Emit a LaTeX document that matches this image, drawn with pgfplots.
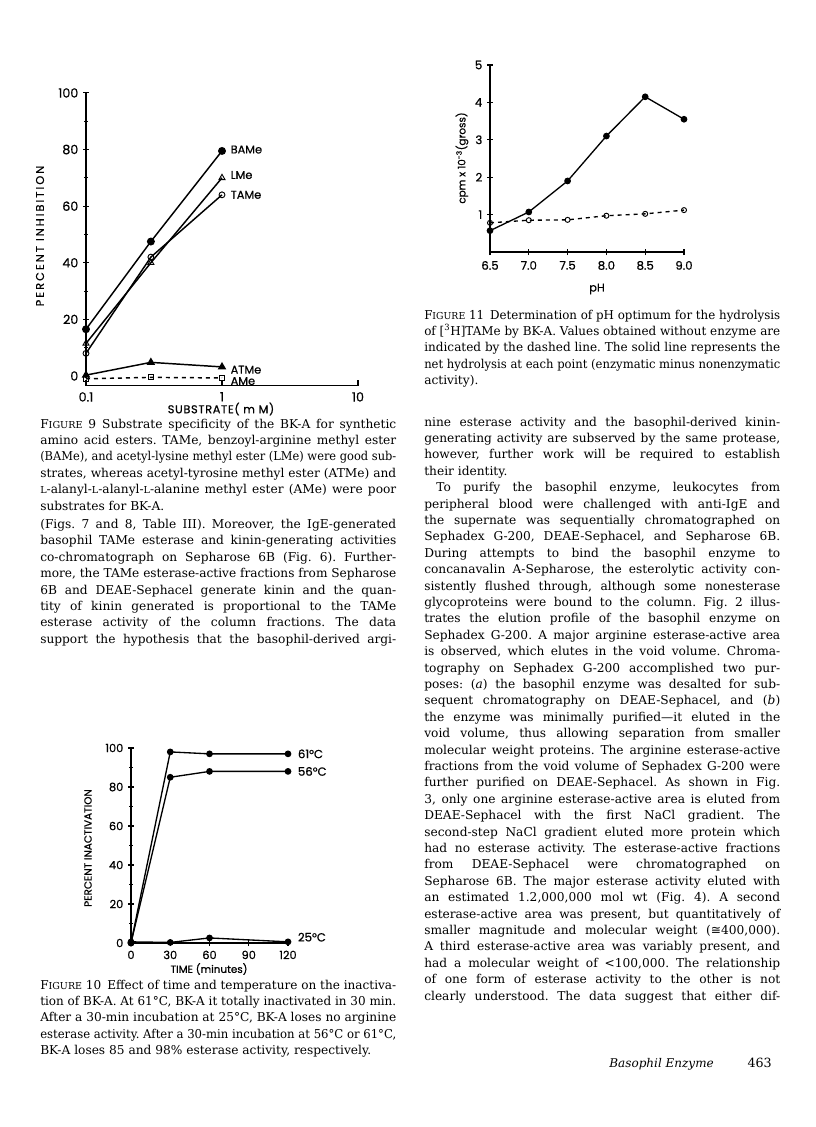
\documentclass[border=0pt]{standalone}
\usepackage{fontspec}
\usepackage{graphicx}
\setmainfont{DejaVu Serif}
\newfontfamily\figfont[FakeBold=0.6]{Poppins}
\newfontfamily\symfont{DejaVu Sans}
\usepackage{pgfplots}
\pgfplotsset{compat=1.18}

\newlength\colw \setlength\colw{267pt}
\newcommand\jl[1]{\noindent\sbox0{#1}\ifdim\wd0>\colw\resizebox{\colw}{\height}{#1}\else\makebox[\colw][s]{#1}\fi\par}
\newcommand\el[1]{\noindent\makebox[\colw][l]{#1}\par}
\newcommand\txt{\fontsize{9.15}{12.3}\selectfont\frenchspacing\parindent=0pt\parskip=0pt}
\newcommand\figsc{F{\fontsize{7.2}{8}\selectfont IGURE}}
\newcommand\Lsc{{\fontsize{7.2}{8}\selectfont L}}
\newcommand\ff[1]{\figfont\fontsize{#1}{#1}\selectfont}

\pgfplotsset{fig/.style={scale only axis,clip=false,
  tick style={black,line width=0.8pt},
  major tick length=4.5pt,minor tick length=3pt,tick align=outside,
  /pgf/number format/assume math mode=true}}

\begin{document}
\begin{tikzpicture}
\path[fill=white] (0pt,0pt) rectangle (612pt,-845.25pt);

% ---- Figure 9
\begin{axis}[fig,at={(64.5pt,-289.4pt)},anchor=south west,width=204pt,height=219.7pt,
  xmode=log,xmin=0.1,xmax=10,ymin=-3.5,ymax=100,
  axis x line=bottom,axis y line=left,
  x axis line style={-,line width=0.9pt},y axis line style={draw=none},
  xtick={0.1,1,10},xticklabels={0.1,1,10},xminorticks=false,
  major x tick style={draw=none},
  ytick={0,20,...,100},minor ytick={10,30,...,90},
  every tick label/.append style={font=\ff{9.5}},
  xticklabel style={yshift=1pt}]
\addplot[black,line width=1.1pt,mark=*,mark size=2.4pt] coordinates {(0.1,16.5)(0.3,47.5)(1,79.5)};
\addplot[black,line width=1.1pt,mark=triangle,mark size=2.6pt,mark options={solid,fill=white,line width=0.7pt}] coordinates {(0.1,11.5)(0.3,40)(1,70)};
\addplot[black,line width=1.1pt,mark=o,mark size=2.2pt,mark options={solid,fill=white,line width=0.7pt}] coordinates {(0.1,8)(0.3,42)(1,64)};
\addplot[black,line width=1.1pt,mark=triangle*,mark size=2.6pt] coordinates {(0.1,0.3)(0.3,4.8)(1,3.2)};
\addplot[black,line width=1.1pt,dashed,mark=square,mark size=1.9pt,mark options={solid,fill=white,line width=0.7pt}] coordinates {(0.1,-1)(0.3,-0.5)(1,-0.7)};
\draw[line width=0.9pt] (axis cs:0.1,0) -- (axis cs:0.1,100);
\draw[line width=0.9pt,densely dotted] (axis cs:0.1,-3.5) -- (axis cs:0.1,0);
\draw[line width=0.8pt] (axis cs:0.1,-3.5) -- ++(0pt,4.5pt)
  (axis cs:1,-3.5) -- ++(0pt,4.5pt) (axis cs:10,-3.5) -- ++(0pt,4.5pt);
\begin{scope}[font=\ff{8.5}]
\node[anchor=west] at (axis cs:1.07,80) {BAMe};
\node[anchor=west] at (axis cs:1.07,71) {LMe};
\node[anchor=west] at (axis cs:1.07,64) {TAMe};
\node[anchor=west] at (axis cs:1.07,2.2) {ATMe};
\node[anchor=west] at (axis cs:1.07,-1.8) {AMe};
\end{scope}
\end{axis}

% ---- Figure 10
\begin{axis}[fig,at={(98.25pt,-707.25pt)},anchor=south west,width=117.75pt,height=146.25pt,
  xmin=0,xmax=120,ymin=0,ymax=100,axis lines=left,
  axis line style={-,line width=0.9pt},
  xtick={0,30,...,120},ytick={0,20,...,100},minor ytick={10,30,...,90},
  every tick label/.append style={font=\ff{8.5}}]
\addplot[black,line width=1pt,mark=*,mark size=2pt] coordinates {(0,0)(30,98)(60,97)(120,97)};
\addplot[black,line width=1pt,mark=*,mark size=2pt] coordinates {(0,0)(30,85)(60,88)(120,88)};
\addplot[black,line width=1pt,mark=*,mark size=2pt] coordinates {(0,0.6)(30,0.3)(60,2.6)(120,0.6)};
\begin{scope}[font=\ff{8.8}]
\node[anchor=west] at (axis cs:124,97) {61°C};
\node[anchor=west] at (axis cs:124,88) {56°C};
\node[anchor=west] at (axis cs:124,3) {25°C};
\end{scope}
\end{axis}

% ---- Figure 11
\begin{axis}[fig,at={(367.5pt,-189pt)},anchor=south west,width=145.5pt,height=140.25pt,
  xmin=6.5,xmax=9.0,ymin=0,ymax=5,axis lines=left,
  axis line style={-,line width=0.9pt},
  xtick={6.5,7,...,9},ytick={1,...,5},
  every tick label/.append style={font=\ff{8.8}},
  xticklabel style={yshift=-1pt,/pgf/number format/.cd,fixed,fixed zerofill,precision=1}]
\addplot[black,line width=1pt,mark=*,mark size=2pt] coordinates {(6.5,0.57)(7.0,1.07)(7.5,1.9)(8.0,3.1)(8.5,4.15)(9.0,3.55)};
\addplot[black,line width=1pt,dashed,mark=o,mark size=1.9pt,mark options={solid,fill=white,line width=0.7pt}] coordinates {(6.5,0.78)(7.0,0.85)(7.5,0.86)(8.0,0.97)(8.5,1.02)(9.0,1.12)};
\end{axis}

\begin{scope}[x=0.75pt,y=-0.75pt]
\node[rotate=90,font=\ff{8.5}\addfontfeatures{LetterSpace=18}] at (40,236) {PERCENT INHIBITION};
\node[font=\ff{8.5}\addfontfeatures{LetterSpace=6}] at (221,409) {SUBSTRATE( m M)};
\node[rotate=90,font=\ff{7.8}] at (88,848) {PERCENT INACTIVATION};
\node[font=\ff{7.8}] at (209,969) {TIME (minutes)};
\node[rotate=90,font=\ff{7.8}] at (462,158) {cpm x 10\textsuperscript{-3}(gross)};
\node[font=\ff{8.5}] at (597,289) {pH};

% ---- text, left column
\node[anchor=base west,inner sep=0pt] at (40,428) {\parbox[t]{\colw}{\txt
\jl{\figsc\ 9\enspace Substrate specificity of the BK-A for synthetic}
\jl{amino acid esters. TAMe, benzoyl-arginine methyl ester}
\jl{(BAMe), and acetyl-lysine methyl ester (LMe) were good sub-}
\jl{strates, whereas acetyl-tyrosine methyl ester (ATMe) and}
\jl{\Lsc-alanyl-\Lsc-alanyl-\Lsc-alanine methyl ester (AMe) were poor}
\el{substrates for BK-A.}
\vspace{1.5pt}
\jl{(Figs. 7 and 8, Table III). Moreover, the IgE-generated}
\jl{basophil TAMe esterase and kinin-generating activities}
\jl{co-chromatograph on Sepharose 6B (Fig. 6). Further-}
\jl{more, the TAMe esterase-active fractions from Sepharose}
\jl{6B and DEAE-Sephacel generate kinin and the quan-}
\jl{tity of kinin generated is proportional to the TAMe}
\jl{esterase activity of the column fractions. The data}
\jl{support the hypothesis that the basophil-derived argi-}
}};

\node[anchor=base west,inner sep=0pt] at (40,989) {\parbox[t]{\colw}{\txt
\jl{\figsc\ 10\enspace Effect of time and temperature on the inactiva-}
\jl{tion of BK-A. At 61°C, BK-A it totally inactivated in 30 min.}
\jl{After a 30-min incubation at 25°C, BK-A loses no arginine}
\jl{esterase activity. After a 30-min incubation at 56°C or 61°C,}
\el{BK-A loses 85 and 98\% esterase activity, respectively.}
}};

% ---- text, right column
\node[anchor=base west,inner sep=0pt] at (424,319) {\parbox[t]{\colw}{\txt
\jl{\figsc\ 11\enspace Determination of pH optimum for the hydrolysis}
\jl{of [\textsuperscript{3}H]TAMe by BK-A. Values obtained without enzyme are}
\jl{indicated by the dashed line. The solid line represents the}
\jl{net hydrolysis at each point (enzymatic minus nonenzymatic}
\el{activity).}
}};

\node[anchor=base west,inner sep=0pt] at (424,426) {\parbox[t]{\colw}{\txt
\jl{nine esterase activity and the basophil-derived kinin-}
\jl{generating activity are subserved by the same protease,}
\jl{however, further work will be required to establish}
\el{their identity.}
\jl{\hspace*{1em}To purify the basophil enzyme, leukocytes from}
\jl{peripheral blood were challenged with anti-IgE and}
\jl{the supernate was sequentially chromatographed on}
\jl{Sephadex G-200, DEAE-Sephacel, and Sepharose 6B.}
\jl{During attempts to bind the basophil enzyme to}
\jl{concanavalin A-Sepharose, the esterolytic activity con-}
\jl{sistently flushed through, although some nonesterase}
\jl{glycoproteins were bound to the column. Fig. 2 illus-}
\jl{trates the elution profile of the basophil enzyme on}
\jl{Sephadex G-200. A major arginine esterase-active area}
\jl{is observed, which elutes in the void volume. Chroma-}
\jl{tography on Sephadex G-200 accomplished two pur-}
\jl{poses: (\textit{a}) the basophil enzyme was desalted for sub-}
\jl{sequent chromatography on DEAE-Sephacel, and (\textit{b})}
\jl{the enzyme was minimally purified---it eluted in the}
\jl{void volume, thus allowing separation from smaller}
\jl{molecular weight proteins. The arginine esterase-active}
\jl{fractions from the void volume of Sephadex G-200 were}
\jl{further purified on DEAE-Sephacel. As shown in Fig.}
\jl{3, only one arginine esterase-active area is eluted from}
\jl{DEAE-Sephacel with the first NaCl gradient. The}
\jl{second-step NaCl gradient eluted more protein which}
\jl{had no esterase activity. The esterase-active fractions}
\jl{from DEAE-Sephacel were chromatographed on}
\jl{Sepharose 6B. The major esterase activity eluted with}
\jl{an estimated 1.2,000,000 mol wt (Fig. 4). A second}
\jl{esterase-active area was present, but quantitatively of}
\jl{smaller magnitude and molecular weight ({\symfont ≅}400,000).}
\jl{A third esterase-active area was variably present, and}
\jl{had a molecular weight of <100,000. The relationship}
\jl{of one form of esterase activity to the other is not}
\jl{clearly understood. The data suggest that either dif-}
}};

\node[anchor=base east,inner sep=0pt,font=\fontsize{9}{11}\selectfont] at (714,1067) {\textit{Basophil Enzyme}};
\node[anchor=base east,inner sep=0pt,font=\fontsize{9.5}{11}\selectfont] at (772,1067) {463};
\end{scope}
\end{tikzpicture}
\end{document}
